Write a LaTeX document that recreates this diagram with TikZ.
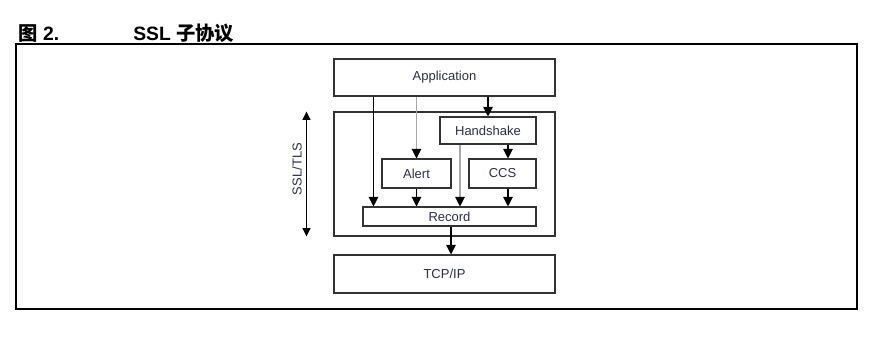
\documentclass[tikz,border=0pt]{standalone}
\usepackage{fontspec}
\setmainfont{Liberation Sans}
\newfontfamily\cjk{Noto Sans CJK SC}
\usetikzlibrary{positioning,arrows.meta,calc}
\definecolor{labelnavy}{HTML}{2A2D4E}
\definecolor{linegray}{HTML}{333333}
\definecolor{softgray}{HTML}{A8A8A8}

\begin{document}
\begin{tikzpicture}[
x=0.02cm, y=-0.02cm,
font=\fontsize{7.4}{9}\selectfont,
box/.style={draw=linegray, line width=0.6pt, inner sep=0pt, text=labelnavy, align=center},
arrow/.style={-{Triangle[length=1.9mm,width=1.9mm]}, line width=0.6pt},
grayarrow/.style={arrow, draw=softgray, -{Triangle[length=1.9mm,width=1.9mm,fill=black,color=black]}},
dblarrow/.style={{Triangle[length=1.7mm,width=1.6mm]}-{Triangle[length=1.7mm,width=1.6mm]}, line width=0.8pt}
]
\useasboundingbox (0,0) rectangle (880,345);

% caption and frame
\node[anchor=base west, inner sep=0pt, font=\fontsize{11}{13}\selectfont\bfseries] (fig) at (18,40) {{\cjk\bfseries 图} 2.};
\node[anchor=base west, inner sep=0pt, font=\fontsize{11}{13}\selectfont\bfseries] (title) at (133,40) {SSL {\cjk\bfseries 子协议}};
\draw[line width=1.2pt] (16,44) rectangle (857,309);

% layers
\node[box, minimum width=4.42cm, minimum height=0.74cm] (app) at (444.5,77.5) {Application};
\node[box, minimum width=4.42cm, minimum height=2.48cm] (ssl) at (444.5,174) {};
\node[box, minimum width=1.92cm, minimum height=0.54cm] (hand) at (488,130.5) {Handshake};
\node[box, minimum width=1.38cm, minimum height=0.58cm] (alert) at (416.5,173.5) {Alert};
\node[box, minimum width=1.34cm, minimum height=0.58cm] (ccs) at (502.5,173.5) {CCS};
\node[box, minimum width=3.46cm, minimum height=0.38cm] (record) at (449.5,216.5) {Record};
\node[box, minimum width=4.42cm, minimum height=0.76cm] (tcp) at (444.5,274) {TCP/IP};

% side label
\coordinate (side) at ([xshift=-5.4mm]ssl.west);
\draw[dblarrow] (side |- ssl.north) -- (side |- ssl.south);
\node[rotate=90, text=labelnavy, inner sep=0pt] (ssltls) at (297,169) {SSL/TLS};

% flows
\coordinate (direct) at ([xshift=2.2mm]record.north west);
\coordinate (hsdirect) at ([xshift=-5.6mm]hand.south);
\coordinate (ccsin) at ([xshift=1.1mm]ccs.north);
\draw[arrow] (direct |- app.south) -- (direct);
\draw[grayarrow] (app.south -| alert) -- (alert.north);
\draw[arrow] (app.south -| hand) -- (hand.north);
\draw[grayarrow] (hsdirect) -- (hsdirect |- record.north);
\draw[arrow] (hand.south -| ccsin) -- (ccsin);
\draw[arrow] (alert.south) -- (alert.south |- record.north);
\draw[arrow] (ccs.south -| ccsin) -- (ccsin |- record.north);
\draw[arrow] ([xshift=0.3mm]record.south) -- ([xshift=0.3mm]record.south |- tcp.north);
\end{tikzpicture}
\end{document}
